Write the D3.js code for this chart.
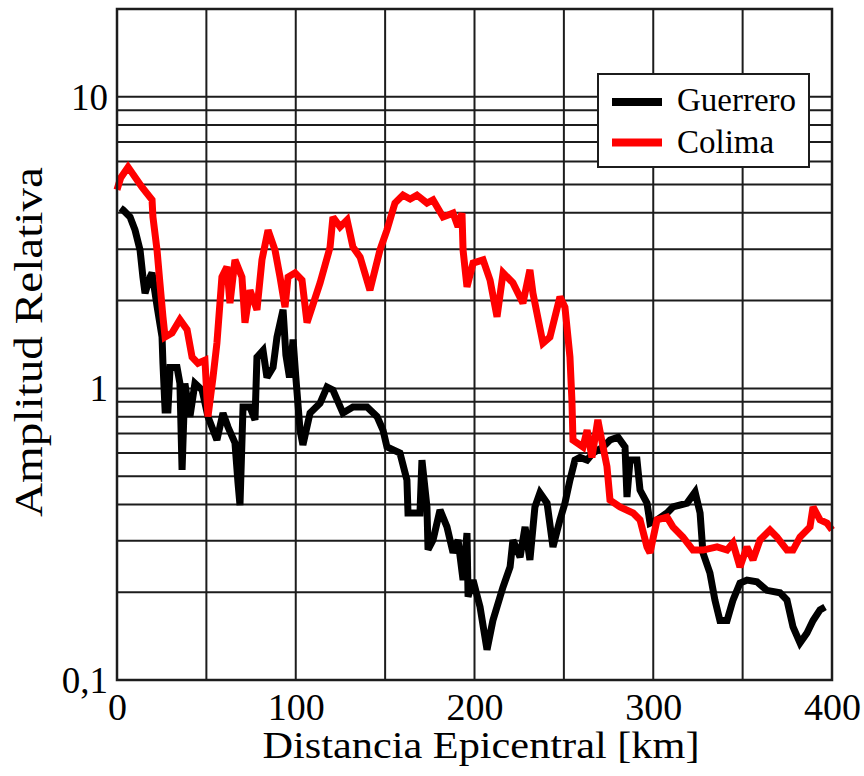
<!DOCTYPE html>
<html>
<head>
<meta charset="utf-8">
<script src="https://cdn.jsdelivr.net/npm/d3@7"></script>
<style>
  body { margin: 0; background: #fff; }
  svg { display: block; }
  text { font-family: "Liberation Serif", "Times New Roman", serif; fill: #000; }
</style>
</head>
<body>
<svg id="chart" width="864" height="776"></svg>
<script>
// Relative amplitude versus epicentral distance, two regions.
const xTickValues = [0, 100, 200, 300, 400];
const xGridValues = [50, 100, 150, 200, 250, 300, 350];
const yTickValues = [0.1, 1, 10];
const yTickLabels = ["0,1", "1", "10"];
const yGridValues = [0.2, 0.3, 0.4, 0.5, 0.6, 0.7, 0.8, 0.9, 1, 2, 3, 4, 5, 6, 7, 8, 9, 10];
const seriesNames = ["Guerrero", "Colima"];
const seriesColors = ["#000000", "#ff0000"];

// [distance km, relative amplitude]
const guerrero = [
  [2,4.15],[3.4,4.09],[7.3,3.87],[10.1,3.49],[12.9,2.98],[14.5,2.41],[15.7,2.12],[18.5,2.41],
  [19.6,2.49],[22.5,1.9],[25.2,1.5],[25.7,1.22],[26.9,0.843],[28.5,0.843],[29.7,1.18],[33.6,1.18],
  [35.2,1.04],[36.4,0.525],[38,1.04],[40.8,0.8],[43.6,1.04],[47.6,0.987],[50.9,0.8],[55.9,0.665],
  [59.3,0.823],[62.1,0.737],[66,0.65],[67.7,0.474],[68.8,0.398],[70.5,0.863],[74.4,0.863],[77.2,0.78],
  [78.3,1.28],[81.7,1.35],[83.9,1.09],[87.3,1.18],[89.5,1.5],[92.9,1.86],[94.5,1.3],[96.5,1.09],
  [98.5,1.47],[100,1.1],[102.4,0.72],[104,0.64],[108,0.823],[113.6,0.89],[117.5,1.01],[120.8,0.987],
  [126.4,0.823],[132,0.863],[139.9,0.863],[145.5,0.8],[148.8,0.72],[151,0.63],[158.3,0.6],[162.2,0.485],
  [162.8,0.374],[169.5,0.374],[170.6,0.568],[173.4,0.392],[174,0.28],[176.8,0.302],[180.7,0.383],[184.6,0.335],
  [188,0.273],[190.8,0.302],[193.6,0.22],[195.8,0.319],[196.4,0.193],[199.2,0.22],[203.1,0.178],[207,0.127],
  [210.3,0.16],[215.9,0.208],[219.9,0.244],[221.5,0.302],[225.5,0.264],[228.3,0.335],[231,0.258],[233.8,0.392],
  [236.6,0.438],[240.6,0.404],[243.9,0.286],[247.8,0.354],[250.6,0.404],[253.4,0.485],[256.2,0.568],[259,0.58],
  [263,0.568],[266.3,0.6],[271.9,0.63],[275.8,0.665],[280.3,0.68],[284.2,0.63],[285.3,0.424],[287,0.568],
  [290.9,0.568],[292.6,0.448],[296.5,0.404],[298.2,0.345],[302.1,0.354],[307.7,0.374],[311,0.392],[318.9,0.404],
  [323.4,0.441],[326.2,0.374],[327.8,0.273],[331.7,0.233],[334.5,0.188],[337.3,0.16],[341.3,0.16],[344.6,0.188],
  [348.5,0.215],[352.4,0.22],[358,0.217],[363.6,0.203],[370.9,0.199],[374.8,0.188],[378.2,0.152],[382.1,0.134],
  [386,0.145],[389.4,0.16],[393.3,0.174],[396.1,0.178]
];

const colima = [
  [0,4.8],[2,5.26],[6.2,5.74],[14,4.9],[19.6,4.43],[20.1,3.87],[22.4,2.98],[24,2.3],
  [25.7,1.76],[26.9,1.5],[30.8,1.55],[35.2,1.72],[39.2,1.59],[42,1.28],[45.3,1.22],[49.2,1.25],
  [50.9,0.8],[53.7,1.09],[55.9,1.43],[58.7,2.41],[61.5,2.61],[63.2,1.96],[66,2.76],[69.9,2.41],
  [71.6,1.68],[74.4,2.17],[78.3,1.86],[81.1,2.76],[84.5,3.49],[88.4,2.98],[91.2,2.41],[94,1.9],
  [95.7,2.41],[99.6,2.49],[103.5,2.35],[106.3,1.68],[113.6,2.3],[119.2,3.05],[120.8,3.87],[124.8,3.58],
  [128.7,3.78],[130.3,3.41],[132,3.05],[136,2.82],[141.5,2.17],[147.1,2.98],[151,3.49],[155.5,4.32],
  [160,4.6],[164,4.46],[167.8,4.6],[173.4,4.32],[176.8,4.43],[182.4,3.87],[188,3.99],[190.8,3.58],
  [193,3.99],[193.6,2.98],[195.8,2.23],[199.2,2.69],[204.8,2.76],[208.7,2.35],[212.6,1.76],[216,2.49],
  [221.5,2.3],[227.1,1.96],[231,2.55],[232.7,2.12],[238.3,1.43],[242.2,1.5],[247.8,2.06],[250.6,1.9],
  [253.4,1.28],[254.5,0.91],[255.1,0.665],[260.7,0.63],[263,0.72],[265.7,0.58],[269,0.78],[271.9,0.63],
  [274.1,0.54],[275.8,0.414],[281.4,0.392],[288.7,0.374],[292.6,0.354],[296.5,0.286],[298.2,0.273],[302.1,0.354],
  [307.7,0.362],[311,0.335],[316.6,0.309],[322.2,0.279],[327.8,0.279],[335.7,0.286],[341.3,0.279],[344.6,0.295],
  [348.5,0.244],[352.4,0.286],[355.8,0.258],[359.7,0.302],[365.3,0.327],[369.2,0.309],[374.8,0.279],[378.2,0.279],
  [382.1,0.309],[387.7,0.335],[389.4,0.392],[393.3,0.354],[397.2,0.345],[400,0.327]
];

const margin = { top: 9, right: 32, bottom: 96, left: 117 };
const W = 864, H = 776;
const innerW = W - margin.left - margin.right;
const innerH = H - margin.top - margin.bottom;

const svg = d3.select("#chart");
svg.append("rect").attr("width", W).attr("height", H).attr("fill", "#fff");

const g = svg.append("g").attr("transform", `translate(${margin.left},${margin.top})`);

const x = d3.scaleLinear().domain([0, 400]).range([0, innerW]);
const y = d3.scaleLog().domain([0.1, 20]).range([innerH, 0]);

const gridColor = "#1c1c1c";

// grid
g.append("g").selectAll("line.v").data(xGridValues).join("line")
  .attr("x1", d => x(d)).attr("x2", d => x(d))
  .attr("y1", 0).attr("y2", innerH)
  .attr("stroke", gridColor).attr("stroke-width", 2);

g.append("g").selectAll("line.h").data(yGridValues).join("line")
  .attr("x1", 0).attr("x2", innerW)
  .attr("y1", d => y(d)).attr("y2", d => y(d))
  .attr("stroke", gridColor).attr("stroke-width", 2);

// series
const line = d3.line().x(d => x(d[0])).y(d => y(d[1]));
[guerrero, colima].forEach((data, i) => {
  g.append("path").datum(data)
    .attr("d", line)
    .attr("fill", "none")
    .attr("stroke", seriesColors[i])
    .attr("stroke-width", 7)
    .attr("stroke-linejoin", "miter")
    .attr("stroke-miterlimit", 2.5);
});

// frame
g.append("rect").attr("x", 0).attr("y", 0).attr("width", innerW).attr("height", innerH)
  .attr("fill", "none").attr("stroke", gridColor).attr("stroke-width", 2.5);

// axes
const yAxis = d3.axisLeft(y).tickValues(yTickValues).tickSize(0).tickPadding(9)
  .tickFormat((d, i) => yTickLabels[i]);
const ya = g.append("g").call(yAxis);
ya.select(".domain").remove();
ya.selectAll("text").attr("font-family", "Liberation Serif").attr("font-size", 37).attr("dy", "0.34em");

const xAxis = d3.axisBottom(x).tickValues(xTickValues).tickSize(0).tickPadding(13).tickFormat(d3.format("d"));
const xa = g.append("g").attr("transform", `translate(0,${innerH})`).call(xAxis);
xa.select(".domain").remove();
xa.selectAll("text").attr("font-family", "Liberation Serif").attr("font-size", 38);

// axis titles
svg.append("text")
  .attr("x", 481).attr("y", 758)
  .attr("text-anchor", "middle")
  .attr("font-size", 38)
  .attr("textLength", 437).attr("lengthAdjust", "spacingAndGlyphs")
  .text("Distancia Epicentral [km]");

svg.append("text")
  .attr("transform", "translate(42,342) rotate(-90)")
  .attr("text-anchor", "middle")
  .attr("font-size", 40)
  .attr("textLength", 350).attr("lengthAdjust", "spacingAndGlyphs")
  .text("Amplitud Relativa");

// legend
const lg = svg.append("g");
lg.append("rect").attr("x", 598).attr("y", 74).attr("width", 211).attr("height", 93)
  .attr("fill", "#fff").attr("stroke", gridColor).attr("stroke-width", 2);
const legendRows = [102, 142.5];
const legendBase = [111, 153];
seriesNames.forEach((name, i) => {
  lg.append("line").attr("x1", 612).attr("x2", 662)
    .attr("y1", legendRows[i]).attr("y2", legendRows[i])
    .attr("stroke", seriesColors[i]).attr("stroke-width", 8);
  lg.append("text").attr("x", 677).attr("y", legendBase[i])
    .attr("font-size", 33).text(name);
});
</script>
</body>
</html>
